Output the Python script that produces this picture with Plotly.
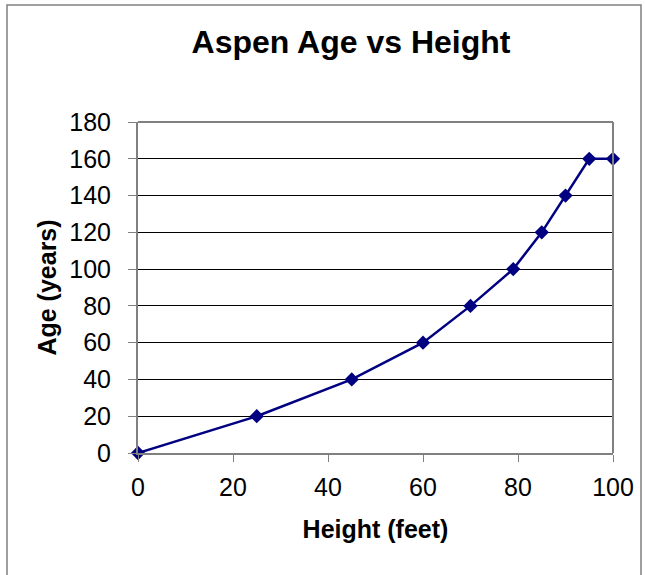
import plotly.graph_objects as go

height_ft = [0, 25, 45, 60, 70, 79, 85, 90, 95, 100]
age_years = [0, 20, 40, 60, 80, 100, 120, 140, 160, 160]
x_ticks = [0, 20, 40, 60, 80, 100]
y_ticks = [0, 20, 40, 60, 80, 100, 120, 140, 160, 180]

W, H = 645, 575
L, R, T, B = 138, 613, 122, 453

def px(x):
    return (x - L) / (R - L)

def py(y):
    return (B - y) / (B - T)

fig = go.Figure()
fig.add_trace(go.Scatter(
    x=height_ft, y=age_years, mode="lines+markers",
    line=dict(color="#000080", width=2.5),
    marker=dict(symbol="diamond", size=11, color="#000080"),
    showlegend=False, cliponaxis=False,
))

font = "Liberation Sans, Arial, sans-serif"
fig.update_layout(
    width=W, height=H,
    margin=dict(l=L, r=W - R, t=T, b=H - B),
    paper_bgcolor="white", plot_bgcolor="white",
    font=dict(family=font, color="black"),
    title=dict(text="<b>Aspen Age vs Height</b>", x=px(351), xref="paper", xanchor="center",
               y=1 - 42 / H, yanchor="middle", font=dict(size=32, family=font)),
    xaxis=dict(range=[0, 100], tickvals=x_ticks, ticks="outside", ticklen=7, tickcolor="#808080",
               showgrid=False, showline=True, linecolor="#808080", linewidth=2, mirror=False,
               zeroline=False, tickfont=dict(size=25), ticklabelstandoff=4,
               title=dict(text="<b>Height (feet)</b>", font=dict(size=25), standoff=20)),
    yaxis=dict(range=[0, 180], tickvals=y_ticks, ticks="outside", ticklen=8, tickcolor="#808080",
               showgrid=True, gridcolor="black", gridwidth=1, showline=True, linecolor="#808080",
               linewidth=2, zeroline=False, tickfont=dict(size=25), ticklabelstandoff=12,
               title=dict(text="<b>Age (years)</b>", font=dict(size=25), standoff=6)),
)

# plot-area border top and right (gray)
fig.add_shape(type="line", xref="paper", yref="paper", x0=0, x1=1, y0=1, y1=1,
              line=dict(color="#808080", width=2))
fig.add_shape(type="line", xref="paper", yref="paper", x0=1, x1=1, y0=0, y1=1,
              line=dict(color="#808080", width=2))
# chart-area frame
fig.add_shape(type="rect", xref="paper", yref="paper",
              x0=px(7), x1=px(641), y0=py(5), y1=py(600),
              line=dict(color="#808080", width=1.5), fillcolor="rgba(0,0,0,0)", layer="below")

fig.write_html("out.html", config={"displayModeBar": False},
               post_script="document.body.style.margin='0';document.body.style.overflow='hidden';")
